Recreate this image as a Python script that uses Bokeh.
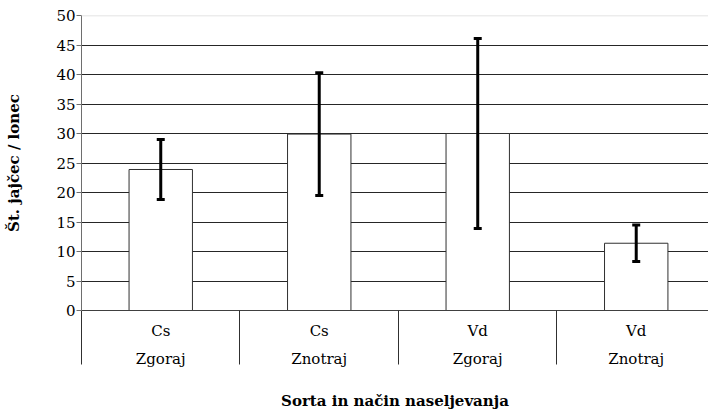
from bokeh.plotting import figure
from bokeh.models import (ColumnDataSource, Range1d, FixedTicker, LinearAxis,
                          Whisker, TeeHead, Span)
from bokeh.embed import file_html
from bokeh.resources import INLINE

# ---- data ----
sorta = ["Cs", "Cs", "Vd", "Vd"]
nacin = ["Zgoraj", "Znotraj", "Zgoraj", "Znotraj"]
means = [23.9, 29.9, 30.0, 11.4]
errors = [5.1, 10.4, 16.1, 3.1]
y_ticks = [0, 5, 10, 15, 20, 25, 30, 35, 40, 45, 50]

SERIF = "DejaVu Serif"

xs = [i + 0.5 for i in range(len(means))]
src = ColumnDataSource(dict(
    x=xs, top=means,
    upper=[m + e for m, e in zip(means, errors)],
    lower=[m - e for m, e in zip(means, errors)],
))

p = figure(width=708, height=412, output_backend="svg", toolbar_location=None,
           x_range=Range1d(0, 3.956), y_range=Range1d(0, 50),
           x_axis_location=None, min_border_left=81, min_border_top=15,
           min_border_right=0, min_border_bottom=0)
p.outline_line_color = None

yax = p.yaxis[0]
yax.ticker = FixedTicker(ticks=y_ticks)
yax.axis_line_color = "#6e6e6e"
yax.major_tick_in = 0
yax.major_tick_out = 5
yax.major_tick_line_color = "#6e6e6e"
yax.minor_tick_line_color = None
yax.major_label_text_font = SERIF
yax.major_label_text_font_size = "15px"
yax.major_label_text_color = "black"
yax.major_label_standoff = 1
yax.axis_label = "Št. jajčec / lonec"
yax.axis_label_text_font = SERIF
yax.axis_label_text_font_style = "bold"
yax.axis_label_text_font_size = "15px"
yax.axis_label_text_color = "black"
yax.axis_label_standoff = 30

p.xgrid.visible = False
p.ygrid.ticker = FixedTicker(ticks=y_ticks[1:-1])
p.ygrid.grid_line_color = "#262626"
p.add_layout(Span(location=y_ticks[-1], dimension="width",
                  line_color="#d9d9d9", line_width=1.5))

ax1 = LinearAxis(ticker=FixedTicker(ticks=xs, minor_ticks=list(range(len(means) + 1))))
ax1.major_label_overrides = {x: s for x, s in zip(xs, sorta)}
ax1.axis_line_color = "#404040"
ax1.major_tick_in = 0
ax1.major_tick_out = 0
ax1.minor_tick_in = 0
ax1.minor_tick_out = 54
ax1.minor_tick_line_color = "#303030"
ax1.major_label_text_font = SERIF
ax1.major_label_text_font_size = "15px"
ax1.major_label_text_color = "black"
ax1.major_label_standoff = -43
p.add_layout(ax1, "below")

ax2 = LinearAxis(ticker=FixedTicker(ticks=xs))
ax2.major_label_overrides = {x: s for x, s in zip(xs, nacin)}
ax2.axis_line_color = None
ax2.major_tick_line_color = None
ax2.minor_tick_line_color = None
ax2.major_label_text_font = SERIF
ax2.major_label_text_font_size = "15px"
ax2.major_label_text_color = "black"
ax2.major_label_standoff = 1
ax2.axis_label = "Sorta in način naseljevanja"
ax2.axis_label_text_font = SERIF
ax2.axis_label_text_font_style = "bold"
ax2.axis_label_text_font_size = "15px"
ax2.axis_label_text_color = "black"
ax2.axis_label_standoff = 21
p.add_layout(ax2, "below")

p.vbar(x="x", top="top", bottom=0, width=0.4, source=src,
       fill_color="white", line_color="#303030", line_width=1)

w = Whisker(base="x", upper="upper", lower="lower", source=src, level="overlay",
            line_color="black", line_width=3,
            upper_head=TeeHead(size=8, line_width=3, line_color="black"),
            lower_head=TeeHead(size=8, line_width=3, line_color="black"))
p.add_layout(w)

open("out.html", "w").write(file_html(p, INLINE))
